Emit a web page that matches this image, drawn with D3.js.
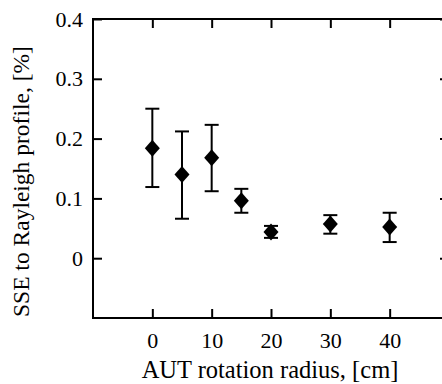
<!DOCTYPE html>
<html><head><meta charset="utf-8">
<script src="https://cdn.jsdelivr.net/npm/d3@7"></script>
<style>
html,body{margin:0;padding:0;background:#fff;}
svg{display:block;}
text{font-family:"Liberation Serif","Times New Roman",serif;fill:#000;}
</style></head>
<body>
<svg id="chart" width="442" height="384"></svg>
<script>
const radius = [0, 5, 10, 15, 20, 30, 40];
const sse    = [0.184, 0.140, 0.168, 0.096, 0.044, 0.057, 0.052];
const errLow = [0.119, 0.066, 0.112, 0.076, 0.034, 0.041, 0.027];
const errHigh= [0.250, 0.212, 0.223, 0.116, 0.054, 0.072, 0.076];
const xTicks = [0, 10, 20, 30, 40];
const yTicks = [0, 0.1, 0.2, 0.3, 0.4];
const yTickLabels = ["0", "0.1", "0.2", "0.3", "0.4"];
const xTitle = "AUT rotation radius, [cm]";
const yTitle = "SSE to Rayleigh profile, [%]";

const svg = d3.select("#chart");
const L = 93, R = 449, T = 19, B = 318;
const x = d3.scaleLinear().domain([-10, 50]).range([L, R]);
const y = d3.scaleLinear().domain([-0.1, 0.4]).range([B, T]);
const tickLen = 9, sw = 2;

// frame
svg.append("rect").attr("x", L).attr("y", T).attr("width", R - L).attr("height", B - T)
  .attr("fill", "none").attr("stroke", "#000").attr("stroke-width", sw);

// bottom axis
const bx = svg.append("g").attr("transform", `translate(0,${B})`)
  .call(d3.axisBottom(x).tickValues(xTicks).tickSize(-tickLen).tickFormat(d3.format("d")));
// top ticks
const tx = svg.append("g").attr("transform", `translate(0,${T})`)
  .call(d3.axisTop(x).tickValues(xTicks).tickSize(-tickLen).tickFormat(""));
// left axis
const ly = svg.append("g").attr("transform", `translate(${L},0)`)
  .call(d3.axisLeft(y).tickValues(yTicks).tickSize(-tickLen).tickFormat((d,i)=>yTickLabels[i]));
// right ticks
const ry = svg.append("g").attr("transform", `translate(${R},0)`)
  .call(d3.axisRight(y).tickValues(yTicks).tickSize(-tickLen).tickFormat(""));
[bx, tx, ly, ry].forEach(g => {
  g.select(".domain").remove();
  g.selectAll(".tick line").attr("stroke", "#000").attr("stroke-width", sw);
  g.selectAll(".tick text").attr("font-size", 22).attr("font-family", "Liberation Serif");
});
bx.selectAll(".tick text").attr("dy", null).attr("y", 30);
ly.selectAll(".tick text").attr("x", -10);

// error bars
const data = radius.map((r, i) => ({r, v: sse[i], lo: errLow[i], hi: errHigh[i]}));
const capW = 7;
const eb = svg.append("g").attr("stroke", "#000").attr("stroke-width", sw);
eb.selectAll(".v").data(data).join("line")
  .attr("x1", d => x(d.r)).attr("x2", d => x(d.r))
  .attr("y1", d => y(d.lo)).attr("y2", d => y(d.hi));
eb.selectAll(".ch").data(data).join("line")
  .attr("x1", d => x(d.r) - capW).attr("x2", d => x(d.r) + capW)
  .attr("y1", d => y(d.hi)).attr("y2", d => y(d.hi));
eb.selectAll(".cl").data(data).join("line")
  .attr("x1", d => x(d.r) - capW).attr("x2", d => x(d.r) + capW)
  .attr("y1", d => y(d.lo)).attr("y2", d => y(d.lo));

// diamonds
const hw = 7.5, hh = 8.5;
svg.append("g").selectAll("path").data(data).join("path")
  .attr("d", d => {
    const cx = x(d.r), cy = y(d.v);
    return `M${cx},${cy - hh}L${cx + hw},${cy}L${cx},${cy + hh}L${cx - hw},${cy}Z`;
  })
  .attr("fill", "#000");

// titles
svg.append("text").attr("x", 270).attr("y", 378)
  .attr("text-anchor", "middle").attr("font-size", 24.5).text(xTitle);
svg.append("text").attr("transform", `translate(29,317) rotate(-90)`)
  .attr("text-anchor", "start").attr("font-size", 23.5).text(yTitle);
</script>
</body></html>
